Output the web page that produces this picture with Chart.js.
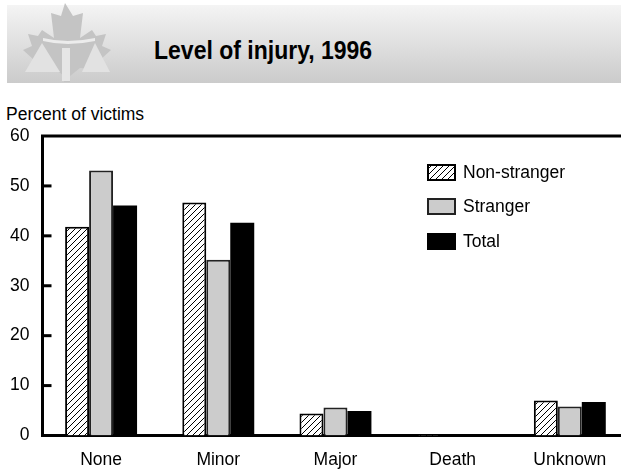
<!DOCTYPE html>
<html><head><meta charset="utf-8">
<script src="https://cdn.jsdelivr.net/npm/chart.js@4/dist/chart.umd.min.js"></script>
<style>
html,body{margin:0;padding:0;background:#fff;overflow:hidden;width:621px;height:470px;}
#page{position:relative;width:621px;height:470px;overflow:hidden;font-family:"Liberation Sans",Arial,sans-serif;color:#000;}
#header{position:absolute;left:7px;top:5px;width:614px;height:78px;background:linear-gradient(to bottom,#f4f4f4,#cbcbcb);}
#logo{position:absolute;left:0;top:0;}
#title{position:absolute;left:154px;top:38px;font-weight:bold;font-size:23px;line-height:1;white-space:nowrap;transform:scaleY(1.12);transform-origin:left top;}
#ylabel{position:absolute;left:6px;top:106px;font-size:17.5px;line-height:1;white-space:nowrap;}
#wrap{position:absolute;left:0;top:100px;width:660px;height:370px;}
#legend{position:absolute;left:427px;top:164px;}
.item{position:absolute;left:0;height:17px;white-space:nowrap;}
.item canvas{position:absolute;left:0;top:0;}
.item span{position:absolute;left:36px;top:-1px;font-size:17.5px;line-height:19px;}
</style></head>
<body><div id="page">
<div id="header"></div>
<svg id="logo" width="130" height="90" viewBox="0 0 130 90">
  <polygon fill="#c4c4c4" points="65,3 73,16 83,13 80,38 92,30 96,36 106,34 102,46 111,50 100,60 103,70 80,68 70,76 70,82 64,82 64,76 54,68 31,70 34,60 23,50 32,46 28,34 38,36 42,30 54,38 51,13 61,16"/>
  <polygon fill="#e2e2e2" points="42,43 25,72 60,72"/>
  <polygon fill="#e2e2e2" points="95,43 82,72 110,72"/>
  <rect fill="#e6e6e6" x="62" y="48" width="8" height="33"/>
  <path fill="#ececec" d="M43,38 Q67,44 95,38 L95,41 Q67,47 43,41 Z"/>
</svg>
<div id="title">Level of injury, 1996</div>
<div id="ylabel">Percent of victims</div>
<div id="wrap"><canvas id="c" width="660" height="370"></canvas></div>
<div id="legend"></div>
</div>
<script>
const categories = ["None", "Minor", "Major", "Death", "Unknown"];
const seriesNames = ["Non-stranger", "Stranger", "Total"];
const nonStranger = [41.8, 46.7, 4.4, 0.2, 7.0];
const stranger = [53.1, 35.2, 5.6, 0, 5.8];
const total = [46.1, 42.6, 4.9, 0.2, 6.7];
const yTicks = [0, 10, 20, 30, 40, 50, 60];

const FONT = '"Liberation Sans", Arial, sans-serif';
const canvas = document.getElementById('c');
const ctx = canvas.getContext('2d');

function makeHatch(target){
  const c = document.createElement('canvas'); c.width = 6; c.height = 6;
  const x = c.getContext('2d');
  x.fillStyle = '#fff'; x.fillRect(0,0,6,6);
  x.strokeStyle = '#000'; x.lineWidth = 1;
  x.beginPath();
  x.moveTo(-1,7); x.lineTo(7,-1);
  x.moveTo(-1,1); x.lineTo(1,-1);
  x.moveTo(5,7); x.lineTo(7,5);
  x.stroke();
  return target.createPattern(c, 'repeat');
}
const hatch = makeHatch(ctx);

const styles = [
  {backgroundColor: hatch, borderColor: '#000', borderWidth: 2},
  {backgroundColor: '#cccccc', borderColor: '#222', borderWidth: 2},
  {backgroundColor: '#000', borderColor: '#000', borderWidth: 0}
];
const values = [nonStranger, stranger, total];

const framePlugin = {
  id: 'frame',
  beforeDatasetsDraw(chart){
    const {ctx, chartArea: a, scales: {y}} = chart;
    ctx.save();
    ctx.strokeStyle = '#000'; ctx.lineWidth = 3;
    ctx.beginPath(); ctx.moveTo(a.left - 1.5, a.top); ctx.lineTo(a.right + 5, a.top); ctx.stroke();
    y.ticks.forEach(t => {
      if (t.value > yTicks[0] && t.value < yTicks[yTicks.length-1]) {
        const py = y.getPixelForValue(t.value);
        ctx.beginPath(); ctx.moveTo(a.left, py); ctx.lineTo(a.left + 9, py); ctx.stroke();
      }
    });
    ctx.restore();
  }
};

const chart = new Chart(ctx, {
  type: 'bar',
  data: {
    labels: categories,
    datasets: seriesNames.map((n, i) => Object.assign({label: n, data: values[i]}, styles[i]))
  },
  options: {
    responsive: false,
    animation: false,
    devicePixelRatio: 1,
    layout: {padding: {top: 36, right: 31.6, bottom: 0, left: 0}},
    categoryPercentage: 0.614,
    barPercentage: 1.0,
    plugins: {legend: {display: false}, tooltip: {enabled: false}, title: {display: false}},
    scales: {
      x: {
        grid: {display: false, drawTicks: false},
        border: {display: true, color: '#000', width: 3},
        ticks: {color: '#000', font: {family: FONT, size: 17.5}, padding: 14, maxRotation: 0, autoSkip: false},
        afterFit(s){ s.height = 34.5; }
      },
      y: {
        min: yTicks[0], max: yTicks[yTicks.length-1],
        afterBuildTicks(s){ s.ticks = yTicks.map(v => ({value: v})); },
        grid: {display: false, drawTicks: false},
        border: {display: true, color: '#000', width: 3},
        ticks: {color: '#000', font: {family: FONT, size: 17.5}, padding: 13},
        afterFit(s){ s.width = 42.5; }
      }
    }
  },
  plugins: [framePlugin]
});

// HTML legend built from the chart's datasets
const legend = document.getElementById('legend');
chart.data.datasets.forEach((ds, i) => {
  const item = document.createElement('div');
  item.className = 'item';
  item.style.top = (i * 34.3) + 'px';
  const bc = document.createElement('canvas'); bc.width = 29; bc.height = 17;
  const bx = bc.getContext('2d');
  bx.fillStyle = (i === 0) ? makeHatch(bx) : ds.backgroundColor;
  bx.fillRect(0, 0, 29, 17);
  if (ds.borderWidth) { bx.strokeStyle = ds.borderColor; bx.lineWidth = 2; bx.strokeRect(1, 1, 27, 15); }
  const sp = document.createElement('span'); sp.textContent = ds.label;
  item.appendChild(bc); item.appendChild(sp);
  legend.appendChild(item);
});
</script>
</body></html>
